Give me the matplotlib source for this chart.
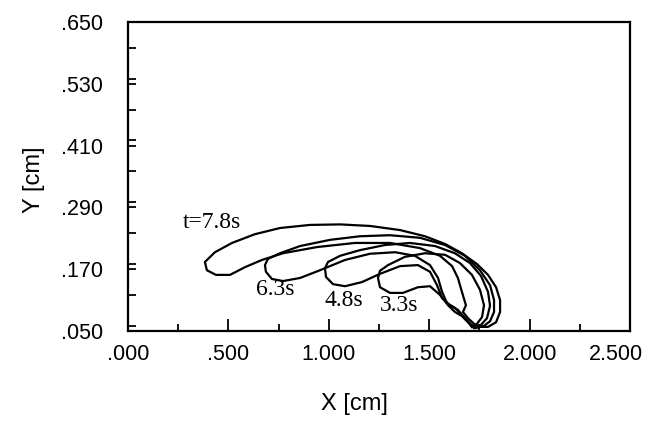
import matplotlib
matplotlib.use("Agg")
import matplotlib.pyplot as plt
from matplotlib.ticker import MultipleLocator, FixedLocator
from matplotlib.transforms import ScaledTranslation

# interface contours at four times (closed curves, data in cm)
x_78 = [1.743, 1.793, 1.833, 1.853, 1.853, 1.833, 1.793, 1.738, 1.663, 1.579,
        1.479, 1.355, 1.205, 1.056, 0.906, 0.757, 0.632, 0.518, 0.433, 0.383,
        0.393, 0.438, 0.508, 0.583, 0.667, 0.772, 0.941, 1.130, 1.305, 1.454,
        1.554, 1.614, 1.643, 1.663, 1.683, 1.668, 1.693, 1.723, 1.743]
y_78 = [0.058, 0.058, 0.067, 0.087, 0.110, 0.135, 0.159, 0.180, 0.201, 0.219,
        0.234, 0.246, 0.254, 0.257, 0.256, 0.250, 0.238, 0.221, 0.203, 0.184,
        0.168, 0.159, 0.159, 0.174, 0.188, 0.201, 0.213, 0.221, 0.221, 0.211,
        0.196, 0.176, 0.153, 0.126, 0.100, 0.087, 0.075, 0.064, 0.058]

x_63 = [1.733, 1.773, 1.803, 1.823, 1.823, 1.803, 1.753, 1.678, 1.579, 1.454,
        1.305, 1.155, 1.006, 0.857, 0.757, 0.697, 0.682, 0.687, 0.717, 0.772,
        0.857, 0.956, 1.081, 1.205, 1.330, 1.429, 1.504, 1.544, 1.564, 1.589,
        1.628, 1.663, 1.703, 1.733]
y_63 = [0.056, 0.060, 0.069, 0.087, 0.110, 0.139, 0.168, 0.196, 0.217, 0.231,
        0.236, 0.234, 0.227, 0.215, 0.201, 0.190, 0.178, 0.165, 0.151, 0.147,
        0.153, 0.168, 0.188, 0.200, 0.203, 0.196, 0.178, 0.153, 0.126, 0.104,
        0.095, 0.081, 0.064, 0.056]

x_48 = [1.723, 1.758, 1.788, 1.803, 1.793, 1.758, 1.703, 1.628, 1.529, 1.404,
        1.280, 1.155, 1.056, 0.996, 0.981, 0.986, 1.021, 1.081, 1.165, 1.255,
        1.355, 1.444, 1.504, 1.539, 1.564, 1.604, 1.643, 1.678, 1.723]
y_48 = [0.056, 0.062, 0.075, 0.099, 0.126, 0.157, 0.182, 0.201, 0.215, 0.221,
        0.217, 0.207, 0.196, 0.184, 0.172, 0.155, 0.141, 0.137, 0.145, 0.161,
        0.176, 0.178, 0.165, 0.139, 0.114, 0.100, 0.091, 0.075, 0.056]

x_33 = [1.713, 1.738, 1.763, 1.773, 1.753, 1.713, 1.653, 1.579, 1.479, 1.379,
        1.295, 1.255, 1.245, 1.255, 1.305, 1.369, 1.444, 1.504, 1.554, 1.594,
        1.628, 1.663, 1.693, 1.713]
y_33 = [0.058, 0.064, 0.077, 0.100, 0.130, 0.159, 0.182, 0.198, 0.201, 0.194,
        0.178, 0.167, 0.153, 0.135, 0.124, 0.124, 0.135, 0.137, 0.120, 0.100,
        0.087, 0.079, 0.067, 0.058]

labels = ["t=7.8s", "6.3s", "4.8s", "3.3s"]
label_x = [0.274, 0.732, 1.076, 1.350]
label_y = [0.260, 0.130, 0.110, 0.100]

x_ticks = [0.0, 0.5, 1.0, 1.5, 2.0, 2.5]
x_ticklabels = [".000", ".500", "1.000", "1.500", "2.000", "2.500"]
y_ticks = [0.05, 0.17, 0.29, 0.41, 0.53, 0.65]
y_ticklabels = [".050", ".170", ".290", ".410", ".530", ".650"]

sans = ["Liberation Sans", "DejaVu Sans"]
serif = ["Liberation Serif", "DejaVu Serif"]

fig = plt.figure(figsize=(6.54, 4.30), dpi=100)
ax = fig.add_axes([0.1957, 0.2302, 0.7676, 0.7186])

for xs, ys in [(x_78, y_78), (x_63, y_63), (x_48, y_48), (x_33, y_33)]:
    ax.plot(xs, ys, color="black", lw=1.6, solid_joinstyle="round")

for i, lab in enumerate(labels):
    ha = "left" if i == 0 else "center"
    ax.text(label_x[i], label_y[i], lab, family=serif, fontsize=17,
            ha=ha, va="center")

ax.set_xlim(0, 2.5)
ax.set_ylim(0.05, 0.65)

ax.xaxis.set_major_locator(FixedLocator(x_ticks))
ax.xaxis.set_minor_locator(MultipleLocator(0.25))
ax.yaxis.set_major_locator(FixedLocator(y_ticks))
ax.yaxis.set_minor_locator(MultipleLocator(0.06))
ax.set_xticklabels(x_ticklabels, family=sans, fontsize=15.5)
ax.set_yticklabels(y_ticklabels, family=sans, fontsize=15.5)

ax.tick_params(axis="x", which="major", direction="in", length=9, width=1.3, pad=9)
ax.tick_params(axis="x", which="minor", direction="in", length=5, width=1.3)
ax.tick_params(axis="y", which="both", direction="in", length=6, width=1.3, pad=18)

# last x label sits a little left of its tick, as in the original
last = ax.get_xticklabels()[-1]
last.set_transform(last.get_transform() + ScaledTranslation(-14 / 100, 0, fig.dpi_scale_trans))

for s in ax.spines.values():
    s.set_linewidth(1.6)

ax.set_xlabel("X [cm]", family=sans, fontsize=17)
ax.set_ylabel("Y [cm]", family=sans, fontsize=17)
ax.xaxis.set_label_coords(0.452, -0.20)
ax.yaxis.set_label_coords(-0.165, 0.489)

fig.savefig("out.png", dpi=100)
